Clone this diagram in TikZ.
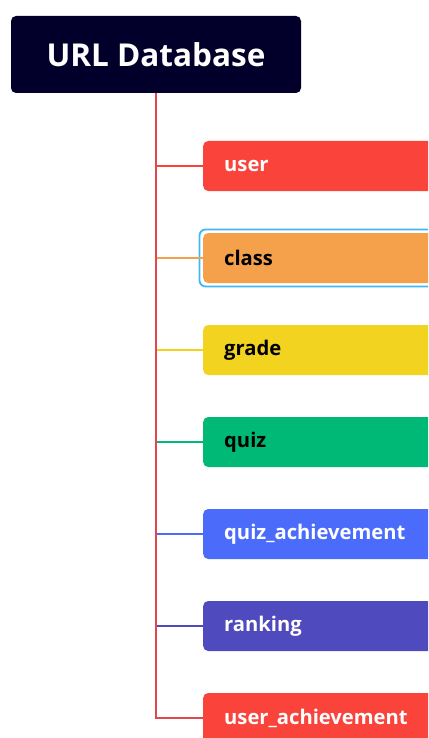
\documentclass[tikz,border=0pt]{standalone}
\usepackage{fontspec}
\setmainfont{Open Sans}
\begin{document}
\begin{tikzpicture}[x=1pt,y=-1pt,
  rootbox/.style={fill=rootnavy, rounded corners=5pt, minimum width=290pt, minimum height=77pt,
    text=white, font=\fontsize{31.5}{34}\selectfont\bfseries, inner sep=0pt},
  itembox/.style={rounded corners=5pt, minimum width=240pt, minimum height=50pt,
    anchor=west, inner sep=0pt},
  itemtext/.style={anchor=west, inner sep=0pt, font=\fontsize{20.2}{24}\selectfont\bfseries},
  trunk/.style={draw=trunkred, line width=2pt},
  branch/.style={line width=1.6pt}]
\definecolor{rootnavy}{HTML}{02002A}
\definecolor{trunkred}{HTML}{E0474F}
\definecolor{cuser}{HTML}{F9433B}
\definecolor{cclass}{HTML}{F5A04B}
\definecolor{cgrade}{HTML}{F1D320}
\definecolor{cquiz}{HTML}{00B977}
\definecolor{cqach}{HTML}{4B6CFB}
\definecolor{crank}{HTML}{4F4ABD}
\definecolor{selblue}{HTML}{3DB8F5}
\useasboundingbox (0,0) rectangle (428,738);
\clip (0,0) rectangle (428,738);

\node[rootbox] (root) at (156,54.5) {URL Database};

% child boxes
\node[itembox, fill=cuser]  (n1) at (203,166) {};
\node[itembox, fill=cclass] (n2) at (203,258) {};
\node[itembox, fill=cgrade] (n3) at (203,350) {};
\node[itembox, fill=cquiz]  (n4) at (203,442) {};
\node[itembox, fill=cqach]  (n5) at (203,534) {};
\node[itembox, fill=crank]  (n6) at (203,626) {};
\node[itembox, fill=cuser]  (n7) at (203,718) {};

% selection outline around the class box
\draw[selblue, line width=1.8pt, rounded corners=6pt] (199.5,229.5) rectangle (440,286.5);

% labels
\node[itemtext, text=white] at (224,166) {user};
\node[itemtext, text=black] at (224,258) {class};
\node[itemtext, text=black] at (224,350) {grade};
\node[itemtext, text=black] at (224,442) {quiz};
\node[itemtext, text=white] at (224,534) {quiz\_achievement};
\node[itemtext, text=white] at (224,626) {ranking};
\node[itemtext, text=white] at (224,718) {user\_achievement};

% branches
\draw[branch, draw=cuser]  (root.south |- n1.west) -- (n1.west);
\draw[branch, draw=cclass] (root.south |- n2.west) -- (n2.west);
\draw[branch, draw=cgrade] (root.south |- n3.west) -- (n3.west);
\draw[branch, draw=cquiz]  (root.south |- n4.west) -- (n4.west);
\draw[branch, draw=cqach]  (root.south |- n5.west) -- (n5.west);
\draw[branch, draw=crank]  (root.south |- n6.west) -- (n6.west);
\draw[trunk] (root.south) |- (n7.west);
\end{tikzpicture}
\end{document}
